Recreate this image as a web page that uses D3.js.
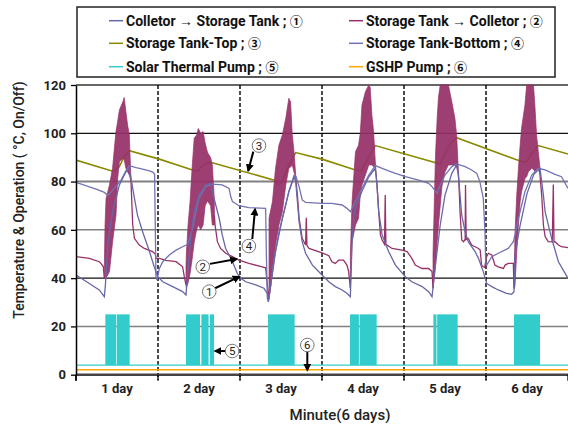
<!DOCTYPE html>
<html><head><meta charset="utf-8">
<script src="https://cdn.jsdelivr.net/npm/d3@7"></script>
<style>
body{margin:0;background:#fff;}
svg{display:block;font-family:Roboto,"Noto Sans",sans-serif;}
</style></head>
<body><svg id="c" width="568" height="427"></svg>
<script>
// ---- data (x = hours since start, 6 days = 144 h; y = °C or On/Off level) ----
const dayLabels = ["1 day","2 day","3 day","4 day","5 day","6 day"];
const dayTicks = [0,24,48,72,96,120,144];
const yTicks = [0,20,40,60,80,100,120];

const tankTop = [[0,88.9],[10.5,84.4],[11.5,84.7],[12.7,86.2],[14.1,90.3],[15.6,92.8],[24.4,89.3],[34.1,84.8],[35.6,84.4],[37,86.5],[38.5,87.8],[39.9,87.8],[58,80.6],[59.2,78.6],[60.4,80],[62.3,86.9],[64.3,92.0],[72,89.3],[81.8,84.8],[83.5,84.5],[85.2,88.9],[87.6,94.9],[106.6,87.3],[108,91.7],[109.5,95.5],[111.4,98.2],[130.9,88.0],[131.9,88.5],[133.4,91.7],[135.3,94.9],[144,91.4]];

const tankBottom = [[0,79.7],[5.9,76.9],[8.3,75.5],[9.3,74.2],[10.2,75.5],[11.7,77.9],[13.2,80.6],[14.6,84.4],[15.6,86.6],[17.6,85.8],[19.5,85.2],[21.5,84.4],[22.6,83.8],[23,83],[23.2,62],[23.4,40.6],[23.7,39.2],[24.4,44],[25.4,46.8],[27.3,49.6],[29.3,51.6],[31.2,53],[32.7,54],[34.1,60.6],[35.1,67.5],[36,73.1],[38,78],[39.9,78.9],[42.8,78.6],[44.8,77.2],[45.3,73.7],[45.8,71.7],[47.7,70],[50.6,69.2],[55.5,68.9],[55.7,51],[56,31.6],[56.3,30.2],[57,37.1],[58,48.2],[59.4,59.2],[60.9,67.5],[62.3,75.8],[63.8,82.4],[64.4,82],[65.3,77.9],[66.2,72.4],[67.2,71.4],[72,71],[74.9,71],[77.9,70.3],[79.3,68.9],[80.3,67.5],[81.8,71.7],[83.7,77.2],[85.7,82.7],[87.6,86.6],[89.6,85.5],[91.5,84.4],[93.5,83.4],[96.4,82],[100.3,80.6],[103.2,79.3],[104.2,77.9],[105.7,75.1],[106.6,78.6],[108,82.7],[110,86.2],[111.4,87.3],[113.9,86.2],[115.8,84.8],[117.3,83.4],[118.2,80],[119.2,73.1],[119.7,59.2],[119.9,46.8],[120.2,45.4],[121.7,48.9],[123.6,50.3],[126.5,52.3],[128,55.1],[128.5,57.9],[129.5,64.8],[131.4,75.8],[133.4,82.7],[135.3,85.5],[137.3,84.8],[140.2,83],[142.1,82],[144,77.2]];

const collectorToTank = [[0,41.3],[3.9,37.8],[6.8,35.1],[8.3,32.3],[8.6,37.1],[9.3,53.7],[10.7,67.5],[12.7,78.6],[14.6,84.1],[15.6,85.5],[16.1,81.3],[17.1,73.1],[18,66.1],[19.5,59.2],[21.5,51],[22.9,44.7],[23.9,40.6],[25.4,38.5],[28.3,36.5],[31.2,34.4],[32.2,33],[32.7,42.7],[33.7,57.9],[34.6,67.5],[36,74.4],[38,78.6],[39.4,79.3],[40.4,73.1],[41.9,64.8],[42.8,57.9],[43.8,52.3],[45.8,46.8],[47.2,42],[48.2,39.9],[49.7,38.5],[52.6,37.2],[55,35.8],[56,33.7],[56.3,30.5],[57,37.1],[58.4,51],[60.4,64.8],[62.3,75.8],[63.8,82],[64.3,80],[65.3,63.4],[66.2,55.1],[67.2,50.3],[69.2,45.4],[72,41.3],[74,38.5],[75.9,36.5],[77.9,35.1],[79.3,33.7],[80.3,32.3],[80.8,55],[81.5,68],[83.7,76],[85.7,82],[87.6,85.5],[88.1,78.6],[88.6,67.5],[89.6,57.9],[91.5,51],[93.5,45.4],[96.4,40.6],[98.3,38.5],[101.3,36.5],[103.2,34.4],[104.2,32.3],[105.2,45.4],[106.6,62],[108,74.4],[110,83.4],[111.4,86.9],[111.9,82.7],[112.9,66.1],[113.9,59.2],[114.8,55.1],[116.8,51],[117.8,48.2],[119.2,42.7],[120.2,37.8],[121.7,36.5],[123.6,35.1],[126,33.7],[127.5,33.3],[128.2,34.4],[128.5,50],[130,62],[132,75],[134,83],[135.8,85.5],[136.8,74.4],[137.3,67.5],[139.2,56.5],[141.2,46.8],[144,39.9]];

// Storage Tank -> Collector, calm stretches between the oscillating periods
const tankToCollector = [
 [[0,48.9],[3.9,48.2],[6.8,46.8],[7.3,46.1],[8,44.7],[8.3,39.9]],
 [[16.1,80],[16.6,62],[17.1,56.5],[18.5,53.7],[20,52.3],[22.4,51],[23.2,50],[23.4,48.2],[24.4,48.2],[26.3,47.4],[29.3,46.8],[31.2,44.7],[31.7,40.6],[32.2,37.1]],
 [[40.5,66],[40.7,62],[41.4,55],[42.3,52.3],[43.8,50.3],[45.8,48.9],[47.7,47.5],[50.6,46.1],[54.5,44.7],[55.5,44.3],[56,37.1],[56.5,31.6]],
 [[64.3,81.3],[64.8,74.4],[65.3,64.8],[66.2,56.5],[67.2,53.7],[67.4,65],[67.6,53.5],[68.2,52.3],[72,50.5],[74,49.3],[74.9,46.8],[75.9,46.1],[76.9,47.5],[78.3,47.5],[79.3,45.4],[79.8,42.7],[80.3,35.8]],
 [[88.1,78.6],[88.6,67.5],[89.1,57.9],[89.6,55.8],[90.3,54],[90.5,74.4],[90.7,54],[92.5,52.3],[95.4,51.6],[96.9,51],[98.3,48.2],[99.3,45.4],[101.3,44],[103.2,44],[104.2,42.7],[104.5,35.8]],
 [[111.9,84],[112.1,78.6],[112.4,67.5],[112.9,55.8],[113.4,55.1],[113.9,56],[114,78.6],[114.2,56],[114.8,56.5],[115.8,53.7],[116.8,53],[117.8,52.3],[118.3,51.6],[118.7,45.4],[119.2,44.7],[119.6,44.5],[120.2,49],[120.7,50.3],[121.7,49.6],[122.6,45.4],[123.6,44.7],[125.1,44],[125.6,45.4],[126.5,46.1],[128,46.1],[128.2,35.8]],
 [[135.8,82.7],[136.3,74.4],[136.8,62],[137.3,57.2],[138.2,55.1],[139.4,55],[139.7,78.8],[139.9,55],[140.2,55.1],[141.2,53.7],[142.1,53],[144,52.6]]
];

// oscillating (spiky) periods of the Storage Tank -> Collector signal: [hour, low, high]
const spikeBands = [
 [[8.3,39.9,45],[8.5,40,62],[8.8,40,73],[9.8,42.7,78.6],[10.7,55,85.5],[11.7,66,100.7],[12.2,81.3,105],[12.7,88.2,109.6],[13.7,89.6,113],[14.1,89,114.8],[14.6,85.5,109],[15.1,84,103.4],[15.6,82.7,99.3],[16.1,80,80]],
 [[32.2,37.1,45],[32.3,36,50],[32.8,38,62],[33.4,42,72],[34,48,86],[34.6,55,97.9],[35.3,60,99.3],[35.8,62,102],[36.5,60,100],[37.2,62,100.7],[37.8,70,96],[38.5,72,92],[39.4,70,90],[39.9,62,87],[40.5,62,72]],
 [[56.5,31.6,64.8],[57.5,42.7,71.7],[58.4,53.7,85.5],[59.4,62,95.1],[60.4,67.5,99.3],[61.4,78.6,106.2],[62.3,85.5,114.5],[62.8,86,113],[63.3,86.9,99.3],[63.8,84,92.4],[64.3,81.3,82.7]],
 [[80.3,35.8,50],[80.8,55,71.7],[81.8,62,92.4],[82.7,64.8,95],[83.2,74.4,100],[83.7,78.6,111.7],[84.7,82.7,117.2],[85.7,86.9,120],[86.1,86.9,119],[86.6,86.9,107.6],[87.1,86.2,100.7],[87.6,85.5,88.2],[88.1,78.6,78.6]],
 [[104.5,35.8,50],[105.2,45,90],[105.7,55,106.2],[106.1,62,115],[106.6,70,120],[107.1,78,120],[108,84,120],[109,86.9,120],[110,86.9,113],[110.9,86.9,106.2],[111.4,86,99.3],[111.9,84,85]],
 [[128.2,35.8,40],[128.3,35.8,45],[128.5,37.2,59.2],[129,51,74.4],[129.5,62,85.5],[130,71.7,95.1],[130.4,75.8,102],[131.4,81.3,111.7],[131.9,82,120],[132.4,84.1,120],[133.4,85.5,120],[133.9,85,120],[134.3,84.1,111.7],[134.8,85,99.3],[135.3,85.5,92.4],[135.8,82.7,85.5]]
];

// Solar thermal pump ON periods [start h, end h]; levels: on / off
const pumpOn = [[8.58,11.7],[11.9,15.7],[32.2,36.3],[36.7,38.8],[39.2,40.4],[56.2,64.0],[80.2,82.8],[83.0,88.0],[104.6,105.5],[105.7,111.7],[128.2,135.8]];
const pumpLevels = {on:25, off:4};
const gshpLevel = 2;

const legendLabels = ["Colletor \u2192 Storage Tank ; ","Storage Tank \u2192 Colletor ; ","Storage Tank-Top ; ","Storage Tank-Bottom ; ","Solar Thermal Pump ; ","GSHP Pump ; "];
const legendMarks = ["\u2460","\u2461","\u2462","\u2463","\u2464","\u2465"];

// annotations: label, circle [h,v], arrow from [h,v] to [h,v]
const notes = [
 ["3",[53.56,94.9],[51.9,92.4],[50.4,84.5]],
 ["4",[50.6,53.3],[51.6,56.2],[52.4,68.6]],
 ["2",[37.1,44.7],[39.2,45.9],[47.0,47.9]],
 ["1",[39.0,34.4],[40.7,35.8],[47.8,40.6]],
 ["5",[45.7,9.8],[44.1,9.8],[40.7,9.8]],
 ["6",[67.7,12.3],[67.7,9.8],[67.7,1.9]]
];

// ---- drawing ----
const C = {c1:"#6767a8", c2:"#983167", c3:"#8a8a00", c4:"#7373b3", c5:"#33cccc", c6:"#ffa500"};
const svg = d3.select("#c");
const L=76,R=568,T=85,B=374.7;
const x = d3.scaleLinear().domain([0,144]).range([L,R]);
const y = d3.scaleLinear().domain([0,120]).range([B,T]);

const defs = svg.append("defs");
defs.append("clipPath").attr("id","pc").append("rect")
  .attr("x",L).attr("y",T-1).attr("width",R-L).attr("height",B-T+1);
const mk = defs.append("marker").attr("id","ah").attr("viewBox","0 0 10 10")
  .attr("refX",8).attr("refY",5).attr("markerWidth",4).attr("markerHeight",4).attr("orient","auto");
mk.append("path").attr("d","M0,0L10,5L0,10z").attr("fill","#000");

// horizontal grid
const gridStyle = {20:["#808080",1.5],40:["#111",1.3],60:["#808080",1.5],80:["#808080",2],100:["#111",1.3],120:["#333",1.3]};
svg.append("g").selectAll("line").data(yTicks.filter(d=>d>0)).join("line")
  .attr("x1",L).attr("x2",R).attr("y1",d=>y(d)).attr("y2",d=>y(d))
  .attr("stroke",d=>gridStyle[d][0]).attr("stroke-width",d=>gridStyle[d][1]);

// day dashed separators
svg.append("g").selectAll("line").data(dayTicks.slice(1,6)).join("line")
  .attr("x1",d=>x(d)).attr("x2",d=>x(d)).attr("y1",T).attr("y2",B+5)
  .attr("stroke","#000").attr("stroke-width",1.4).attr("stroke-dasharray","4,2");

const plot = svg.append("g").attr("clip-path","url(#pc)");

// pump
plot.append("line").attr("x1",L).attr("x2",R).attr("y1",y(pumpLevels.off)).attr("y2",y(pumpLevels.off))
  .attr("stroke",C.c5).attr("stroke-width",1.3);
plot.append("g").selectAll("rect").data(pumpOn).join("rect")
  .attr("x",d=>x(d[0])).attr("width",d=>x(d[1])-x(d[0]))
  .attr("y",y(pumpLevels.on)).attr("height",y(pumpLevels.off)-y(pumpLevels.on)).attr("fill",C.c5);
plot.append("line").attr("x1",L).attr("x2",R).attr("y1",y(gshpLevel)).attr("y2",y(gshpLevel))
  .attr("stroke",C.c6).attr("stroke-width",1.5);

const line = d3.line().x(d=>x(d[0])).y(d=>y(d[1]));
const area = d3.area().x(d=>x(d[0])).y0(d=>y(d[1])).y1(d=>y(d[2]));

plot.append("path").datum(tankTop).attr("d",line).attr("fill","none").attr("stroke",C.c3).attr("stroke-width",1.6);
plot.append("g").selectAll("path").data(tankToCollector).join("path").attr("d",line)
  .attr("fill","none").attr("stroke",C.c2).attr("stroke-width",1.3);
plot.append("g").selectAll("path").data(spikeBands).join("path").attr("d",area)
  .attr("fill","#963067").attr("fill-opacity",0.93).attr("stroke",C.c2).attr("stroke-width",0.7);
plot.append("path").datum(tankBottom).attr("d",line).attr("fill","none").attr("stroke",C.c4).attr("stroke-width",1.3);
plot.append("path").datum(collectorToTank).attr("d",line).attr("fill","none").attr("stroke",C.c1).attr("stroke-width",1.3);

// x axis base line
svg.append("line").attr("x1",L).attr("x2",R).attr("y1",B).attr("y2",B).attr("stroke","#444").attr("stroke-width",2.5);
svg.append("g").selectAll("line").data(dayTicks).join("line")
  .attr("x1",d=>x(d)).attr("x2",d=>x(d)).attr("y1",B).attr("y2",B+6).attr("stroke","#000").attr("stroke-width",1.3);
svg.append("g").selectAll("text").data(dayLabels).join("text")
  .attr("x",(d,i)=>x((dayTicks[i]+dayTicks[i+1])/2)).attr("y",B+18)
  .attr("text-anchor","middle").attr("font-size",13).attr("font-weight",700).attr("fill","#222").text(d=>d);

// y axis
const ya = svg.append("g").attr("transform",`translate(${L},0)`)
  .call(d3.axisLeft(y).tickValues(yTicks).tickSize(5).tickPadding(5).tickSizeOuter(0));
ya.select(".domain").attr("stroke","#000").attr("stroke-width",1.5);
ya.selectAll(".tick line").attr("stroke","#000").attr("stroke-width",1.3);
ya.selectAll(".tick text").attr("font-size",13).attr("font-weight",700).attr("fill","#222").attr("font-family","Roboto,sans-serif");
svg.append("line").attr("x1",L).attr("x2",L).attr("y1",B).attr("y2",B+6).attr("stroke","#000").attr("stroke-width",1.5);

// titles
svg.append("text").attr("transform","translate(24,200) rotate(-90)").attr("text-anchor","middle")
  .attr("font-size",14).attr("font-weight",500).attr("fill","#222").text("Temperature & Operation ( \u00B0C, On/Off)");
svg.append("text").attr("x",340).attr("y",420).attr("text-anchor","middle")
  .attr("font-size",15).attr("font-weight",500).attr("fill","#222").text("Minute(6 days)");

// annotations
const an = svg.append("g");
notes.forEach(n=>{
  an.append("line").attr("x1",x(n[2][0])).attr("y1",y(n[2][1])).attr("x2",x(n[3][0])).attr("y2",y(n[3][1]))
    .attr("stroke","#000").attr("stroke-width",2).attr("marker-end","url(#ah)");
  an.append("circle").attr("cx",x(n[1][0])).attr("cy",y(n[1][1])).attr("r",6.8)
    .attr("fill","#fff").attr("stroke","#777").attr("stroke-width",1);
  an.append("text").attr("x",x(n[1][0])).attr("y",y(n[1][1])+4).attr("text-anchor","middle")
    .attr("font-size",11.5).attr("fill","#222").text(n[0]);
});

// legend
const lg = svg.append("g");
lg.append("rect").attr("x",77).attr("y",7).attr("width",478).attr("height",70)
  .attr("fill","#fff").attr("stroke","#222").attr("stroke-width",1.5);
const lgCols=[109,349], lgRows=[20.7,43.3,66.7];
const lgColors=[C.c1,C.c2,C.c3,C.c4,C.c5,C.c6];
legendLabels.forEach((t,i)=>{
  const lx=lgCols[i%2], ly=lgRows[Math.floor(i/2)];
  lg.append("line").attr("x1",lx).attr("x2",lx+14).attr("y1",ly).attr("y2",ly).attr("stroke",lgColors[i]).attr("stroke-width",1.5);
  const tx = lg.append("text").attr("x",lx+17).attr("y",ly+5).attr("font-size",14).attr("font-weight",700).attr("fill","#111");
  tx.append("tspan").text(t);
  tx.append("tspan").attr("font-family","'Noto Sans CJK JP',sans-serif").attr("font-size",13).text(legendMarks[i]);
});
</script></body></html>
